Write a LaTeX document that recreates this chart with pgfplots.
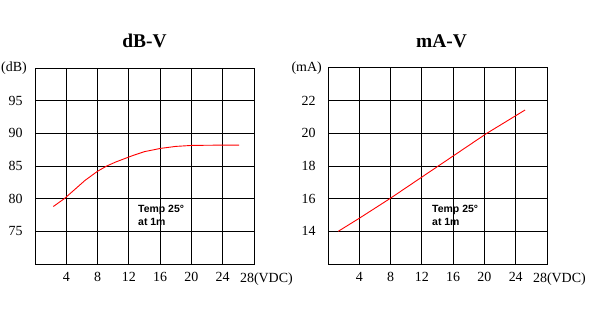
\documentclass[border=0pt]{standalone}
\usepackage{fontspec}
\setmainfont{Liberation Serif}
\newfontfamily\arialfont{Liberation Sans}
\usepackage{pgfplots}
\pgfplotsset{compat=1.18}
\begin{document}
\begin{tikzpicture}[x=1bp,y=1bp]
\useasboundingbox (0,0) rectangle (590,327);
\pgfplotsset{
  mystyle/.style={
    scale only axis, width=219bp, height=196bp,
    anchor=south west,
    xmin=0, xmax=28,
    xtick={4,8,12,16,20,24,28},
    xticklabels={4,8,12,16,20,24,{\llap{28}\rlap{(VDC)}}},
    grid=major,
    grid style={black, line width=0.9bp},
    axis line style={black, line width=1bp},
    major tick length=0pt,
    tick label style={font=\fontsize{14}{16}\selectfont},
    xticklabel style={yshift=-5bp},
    yticklabel style={xshift=-9bp},
    /pgf/number format/assume math mode=true,
    clip=false,
  }
}
\begin{axis}[mystyle, at={(35bp,63bp)}, ymin=70, ymax=100, ytick={75,80,85,90,95}]
\addplot[red, line width=0.9bp] coordinates {
(2.34,78.8) (3.75,80.0) (6.4,82.8) (8,84.2) (9.17,85.0) (10.3,85.6) (11.5,86.15) (12.5,86.6) (14.0,87.2) (16.07,87.7) (18.0,88.0) (20.04,88.15) (24,88.2) (26.1,88.2)};
\node[anchor=base, font=\fontsize{19.5}{22}\selectfont\bfseries] at (rel axis cs:0.5,1) [yshift=20bp] {dB-V};
\node[anchor=east, font=\fontsize{14}{16}\selectfont, inner sep=0pt] at (rel axis cs:0,1) [xshift=-8bp] {(dB)};
\node[anchor=north west, inner sep=0pt, align=left, font=\arialfont\fontsize{10.5}{13}\selectfont\bfseries] at (axis cs:13.17,79.03) {Temp 25°\\at 1m};
\end{axis}
\begin{axis}[mystyle, at={(328bp,63bp)}, ymin=12, ymax=24, ytick={14,16,18,20,22}]
\addplot[red, line width=0.9bp] coordinates {
(1.3,14.0) (4,14.8) (7.9,16.0) (14.1,18.0) (20.3,20.0) (25.2,21.43)};
\node[anchor=base, font=\fontsize{19.5}{22}\selectfont\bfseries] at (rel axis cs:0.5,1) [yshift=20bp, xshift=4bp] {mA-V};
\node[anchor=east, font=\fontsize{14}{16}\selectfont, inner sep=0pt] at (rel axis cs:0,1) [xshift=-6bp] {(mA)};
\node[anchor=north west, inner sep=0pt, align=left, font=\arialfont\fontsize{10.5}{13}\selectfont\bfseries] at (axis cs:13.3,15.61) {Temp 25°\\at 1m};
\end{axis}
\end{tikzpicture}
\end{document}
